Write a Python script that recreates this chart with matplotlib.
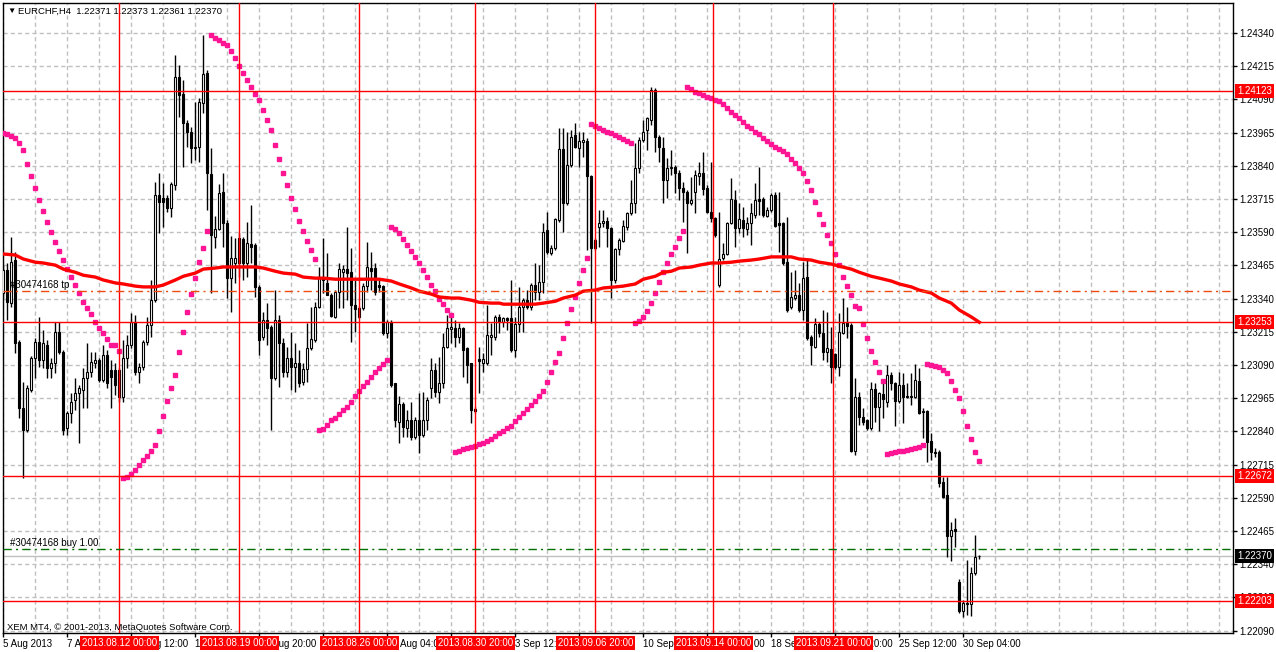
import matplotlib
matplotlib.use("Agg")
import matplotlib.pyplot as plt
import numpy as np

plt.rcParams['font.family'] = ['Liberation Sans', 'DejaVu Sans']

# EURCHF H4 candles, prices in points (1e-5), bar 0 = 5 Aug 2013 04:00
opens = [
    123361, 123447, 123323, 123485, 123176, 122928, 122845, 122996, 123116, 123176,
    123109, 123165, 123079, 123098, 123214, 123138, 122853, 122909, 122958, 122985,
    122996, 123041, 123063, 123098, 123109, 123033, 123127, 123071, 123071, 123071,
    122970, 123116, 123165, 123251, 123063, 123083, 123176, 123240, 123334, 123730,
    123719, 123719, 123681, 123767, 124174, 124110, 124001, 123967, 123907, 123911,
    124076, 124189, 123809, 123572, 123602, 123741, 123625, 123417, 123474, 123568,
    123564, 123474, 123545, 123541, 123384, 123196, 123259, 123233, 123041, 123259,
    123173, 123063, 123116, 123083, 123098, 123025, 123075, 123154, 123184, 123308,
    123421, 123399, 123353, 123271, 123364, 123439, 123451, 123439, 123315, 123271,
    123304, 123387, 123455, 123455, 123391, 123387, 123211, 123251, 123022, 122875,
    122943, 122853, 122883, 122819, 122883, 122826, 122883, 123003, 123071, 122988,
    123022, 123158, 123225, 123229, 123196, 123229, 123154, 123098, 122924, 123112,
    123098, 123098, 123196, 123196, 123271, 123251, 123267, 123267, 123146, 123244,
    123308, 123334, 123308, 123391, 123364, 123402, 123598, 123511, 123530, 123636,
    123903, 123700, 123843, 123956, 123907, 123929, 123933, 123802, 123560, 123610,
    123625, 123632, 123606, 123410, 123526, 123556, 123610, 123662, 123700, 123832,
    123937, 123975, 124012, 124125, 123949, 123907, 123786, 123832, 123836, 123813,
    123756, 123741, 123700, 123741, 123802, 123813, 123756, 123665, 123643, 123391,
    123493, 123508, 123625, 123711, 123606, 123636, 123602, 123625, 123655, 123715,
    123715, 123651, 123673, 123730, 123625, 123625, 123477, 123308, 123342, 123353,
    123297, 123421, 123196, 123158, 123244, 123211, 123138, 123150, 123131, 123083,
    123211, 123248, 123240, 122766, 122970, 122894, 122883, 122853, 123000, 122932,
    122981, 122950, 123052, 123022, 122954, 123014, 122973, 122970, 122970, 123029,
    122916, 122916, 122804, 122762, 122762, 122649, 122600, 122446, 122472, 122273,
    122163, 122190, 122190, 122307, 122371,
]
highs = [
    123466, 123474, 123572, 123515, 123184, 123025, 123014, 123123, 123192, 123271,
    123222, 123184, 123116, 123251, 123251, 123146, 122916, 122985, 123041, 123014,
    123079, 123173, 123138, 123138, 123116, 123165, 123146, 123109, 123098, 123079,
    123184, 123203, 123286, 123278, 123098, 123184, 123271, 123410, 123778, 123813,
    123775, 123730, 123778, 124257, 124219, 124163, 124012, 123986, 124079, 124095,
    124332, 124200, 123907, 123650, 123771, 123813, 123636, 123575, 123568, 123587,
    123572, 123628, 123692, 123549, 123391, 123289, 123323, 123240, 123372, 123278,
    123192, 123158, 123214, 123173, 123146, 123098, 123248, 123308, 123326, 123459,
    123568, 123512, 123361, 123372, 123474, 123466, 123610, 123530, 123410, 123311,
    123399, 123553, 123515, 123474, 123410, 123391, 123259, 123259, 123022, 122973,
    122950, 122920, 122950, 122894, 122985, 122988, 122970, 123116, 123098, 123120,
    123211, 123278, 123278, 123259, 123248, 123233, 123158, 123098, 122932, 123158,
    123135, 123315, 123248, 123278, 123282, 123271, 123271, 123410, 123271, 123384,
    123342, 123372, 123399, 123474, 123466, 123625, 123665, 123541, 123643, 123983,
    123983, 123967, 123975, 124001, 123967, 123967, 123945, 123805, 123568, 123673,
    123673, 123647, 123610, 123530, 123568, 123636, 123665, 123786, 123926, 123949,
    124012, 124024, 124136, 124132, 123956, 123949, 123869, 123899, 123843, 123824,
    123778, 123749, 123798, 123824, 123854, 123892, 123768, 123854, 123647, 123665,
    123549, 123628, 123794, 123749, 123700, 123685, 123647, 123700, 123775, 123836,
    123722, 123685, 123738, 123741, 123741, 123628, 123647, 123439, 123447, 123399,
    123477, 123493, 123203, 123267, 123251, 123297, 123289, 123233, 123135, 123286,
    123342, 123308, 123248, 123041, 122988, 122928, 122887, 123025, 123022, 122988,
    123025, 123090, 123063, 123025, 123063, 123060, 123022, 123060, 123094, 123079,
    122928, 122920, 122834, 122777, 122770, 122668, 122668, 122499, 122514, 122284,
    122205, 122356, 122329, 122450, 122373,
]
lows = [
    123346, 123259, 123308, 123135, 122890, 122664, 122837, 122988, 123041, 123083,
    123079, 123041, 123041, 123060, 123131, 122826, 122826, 122872, 122920, 122796,
    122928, 122928, 123045, 123079, 123025, 123025, 123003, 122928, 122977, 122950,
    122950, 123079, 123154, 123052, 123022, 123071, 123165, 123196, 123326, 123587,
    123610, 123665, 123647, 123749, 124024, 123836, 123911, 123851, 123862, 123854,
    124039, 123673, 123361, 123530, 123598, 123534, 123342, 123289, 123399, 123421,
    123410, 123421, 123474, 123346, 123127, 123184, 123165, 122845, 123033, 123007,
    123045, 123045, 122996, 122988, 123007, 123014, 123025, 123146, 123176, 123304,
    123361, 123353, 123271, 123267, 123304, 123304, 123334, 123176, 123214, 123267,
    123297, 123364, 123372, 123353, 123364, 123203, 123192, 123007, 122857, 122796,
    122819, 122819, 122807, 122811, 122759, 122819, 122845, 122966, 122970, 122947,
    123003, 123154, 123173, 123158, 123173, 123045, 123022, 122872, 122909, 122985,
    123063, 123090, 123127, 123184, 123211, 123233, 123222, 123138, 123120, 123214,
    123214, 123300, 123297, 123334, 123334, 123361, 123508, 123504, 123523, 123628,
    123590, 123692, 123836, 123907, 123836, 123873, 123523, 123248, 123523, 123534,
    123610, 123534, 123342, 123399, 123504, 123553, 123598, 123655, 123662, 123813,
    123929, 123899, 123994, 123892, 123854, 123700, 123719, 123805, 123738, 123711,
    123628, 123511, 123692, 123662, 123768, 123730, 123662, 123628, 123572, 123384,
    123485, 123504, 123621, 123534, 123587, 123572, 123579, 123541, 123643, 123655,
    123647, 123647, 123665, 123610, 123515, 123466, 123289, 123300, 123334, 123289,
    123259, 123184, 123090, 123154, 123196, 123109, 123101, 123022, 123075, 123049,
    123207, 123192, 122762, 122751, 122864, 122864, 122845, 122845, 122875, 122841,
    122890, 122932, 122996, 122860, 122947, 122872, 122966, 122939, 122966, 122905,
    122815, 122724, 122732, 122743, 122630, 122589, 122367, 122352, 122405, 122156,
    122141, 122148, 122145, 122299, 122361,
]
closes = [
    123447, 123326, 123477, 123173, 122928, 122845, 123003, 123116, 123176, 123109,
    123173, 123079, 123098, 123214, 123138, 122845, 122909, 122950, 122985, 123003,
    123041, 123063, 123101, 123109, 123033, 123127, 123022, 123045, 123014, 122970,
    123116, 123165, 123251, 123063, 123083, 123176, 123240, 123334, 123730, 123703,
    123703, 123681, 123771, 124174, 124106, 124001, 123967, 123907, 123911, 124079,
    124185, 123813, 123579, 123602, 123738, 123625, 123417, 123493, 123493, 123474,
    123474, 123549, 123534, 123384, 123184, 123259, 123229, 123041, 123259, 123173,
    123063, 123116, 123083, 123098, 123022, 123075, 123154, 123188, 123308, 123421,
    123410, 123353, 123274, 123364, 123451, 123451, 123436, 123315, 123300, 123304,
    123387, 123458, 123443, 123364, 123384, 123211, 123251, 123014, 122883, 122943,
    122857, 122883, 122819, 122883, 122826, 122883, 122958, 123071, 122988, 123022,
    123158, 123229, 123233, 123196, 123229, 123146, 123090, 122920, 122916, 123105,
    123112, 123203, 123203, 123271, 123251, 123267, 123259, 123146, 123244, 123308,
    123334, 123308, 123391, 123364, 123402, 123590, 123515, 123530, 123640, 123903,
    123700, 123843, 123949, 123911, 123933, 123937, 123802, 123530, 123530, 123625,
    123632, 123606, 123410, 123526, 123560, 123613, 123662, 123700, 123832, 123937,
    123967, 124020, 124125, 123949, 123911, 123786, 123832, 123836, 123813, 123756,
    123741, 123700, 123711, 123805, 123813, 123753, 123665, 123643, 123579, 123489,
    123508, 123625, 123715, 123606, 123640, 123606, 123625, 123662, 123711, 123707,
    123655, 123673, 123730, 123613, 123617, 123474, 123297, 123346, 123353, 123297,
    123417, 123192, 123165, 123244, 123211, 123138, 123154, 123083, 123083, 123214,
    123248, 123236, 122766, 122970, 122894, 122875, 122853, 123000, 122932, 122985,
    122962, 123052, 123022, 122954, 123014, 122970, 122970, 122973, 123033, 122909,
    122913, 122800, 122762, 122759, 122645, 122593, 122446, 122469, 122465, 122163,
    122194, 122194, 122307, 122367, 122370,
]

# Parabolic SAR, one dot per bar (points)
sar = [
    123964, 123960, 123952, 123945, 123926, 123899, 123847, 123801, 123756, 123711,
    123669, 123628, 123590, 123553, 123519, 123485, 123451, 123421, 123391, 123361,
    123326, 123304, 123282, 123251, 123229, 123211, 123188, 123165, 123165, 123142,
    122664, 122668, 122679, 122694, 122713, 122732, 122747, 122766, 122788, 122841,
    122897, 122954, 123003, 123052, 123138, 123214, 123289, 123357, 123417, 123477,
    123530, 123594, 124332, 124321, 124313, 124302, 124294, 124272, 124246, 124215,
    124189, 124163, 124136, 124110, 124087, 124050, 124012, 123975, 123918, 123866,
    123813, 123768, 123719, 123677, 123632, 123594, 123556, 123523, 123489, 122845,
    122849, 122864, 122883, 122890, 122905, 122920, 122932, 122950, 122973, 122992,
    123011, 123025, 123045, 123063, 123079, 123094, 123109, 123610, 123602, 123587,
    123564, 123541, 123519, 123497, 123474, 123447, 123421, 123391, 123368, 123338,
    123319, 123297, 123278, 122762, 122766, 122773, 122777, 122781, 122785, 122792,
    122796, 122804, 122811, 122822, 122834, 122841, 122853, 122860, 122879, 122894,
    122909, 122924, 122939, 122954, 122973, 122992, 123025, 123063, 123101, 123135,
    123192, 123248, 123300, 123346, 123399, 123447, 123493, 123997, 123990, 123983,
    123975, 123967, 123964, 123956, 123949, 123941, 123933, 123926, 123248, 123255,
    123271, 123293, 123323, 123361, 123402, 123439, 123474, 123508, 123534, 123568,
    123594, 124136, 124129, 124117, 124114, 124106, 124099, 124095, 124087, 124084,
    124072, 124057, 124042, 124031, 124020, 124005, 123990, 123983, 123967, 123960,
    123945, 123933, 123922, 123911, 123903, 123896, 123884, 123866, 123851, 123832,
    123813, 123783, 123749, 123704, 123658, 123621, 123579, 123549, 123508, 123466,
    123421, 123387, 123353, 123311, 123304, 123244, 123192, 123142, 123101, 123063,
    123029, 122755, 122759, 122762, 122766, 122766, 122770, 122773, 122777, 122781,
    122788, 123094, 123090, 123086, 123083, 123071, 123060, 123029, 122996, 122966,
    122916, 122860, 122811, 122762, 122728,
]

# moving average read at these bars (points)
ma_bars = [0, 3, 5, 8, 10, 13, 15, 18, 20, 23, 25, 28, 30, 33, 35, 38, 40, 43, 45, 48,
           50, 53, 55, 58, 60, 63, 65, 68, 70, 73, 75, 78, 80, 83, 87, 92, 94, 97, 99, 102,
           104, 107, 109, 112, 114, 117, 119, 122, 124, 125, 128, 130, 133, 135, 138, 140,
           143, 145, 148, 150, 153, 155, 158, 160, 163, 165, 167, 169, 172, 174, 177, 179,
           182, 184, 187, 189, 192, 194, 197, 199, 202, 204, 207, 209, 212, 214, 217, 219,
           222, 224, 227, 229, 232, 234, 237, 239, 242, 244]
ma_vals = [123508, 123504, 123489, 123477, 123474, 123466, 123451, 123439, 123428, 123421,
           123410, 123399, 123395, 123387, 123384, 123384, 123391, 123410, 123424, 123436,
           123451, 123455, 123459, 123459, 123459, 123459, 123455, 123443, 123436, 123432,
           123421, 123417, 123417, 123413, 123413, 123413, 123413, 123406, 123395, 123380,
           123368, 123357, 123346, 123342, 123342, 123334, 123326, 123323, 123323, 123319,
           123319, 123319, 123319, 123323, 123330, 123342, 123353, 123368, 123372, 123380,
           123384, 123387, 123395, 123413, 123424, 123439, 123443, 123455, 123459, 123466,
           123474, 123474, 123477, 123481, 123485, 123489, 123497, 123497, 123497, 123489,
           123485, 123477, 123470, 123462, 123451, 123439, 123424, 123417, 123406, 123395,
           123384, 123372, 123361, 123342, 123323, 123297, 123271, 123251]

red_levels = [1.24123, 1.23253, 1.22672, 1.22203]
tp_price = 1.23369
buy_price = 1.22398
bid_price = 1.22370

vline_bars = [29, 59, 89, 118, 148, 177.5, 207.5]
vline_labels = ["2013.08.12 00:00", "2013.08.19 00:00", "2013.08.26 00:00",
                "2013.08.30 20:00", "2013.09.06 20:00", "2013.09.14 00:00",
                "2013.09.21 00:00"]

time_tick_bars = list(range(0, 241, 16))
time_tick_labels = ["5 Aug 2013", "7 Aug 20:00", "12 Aug 12:00", "15 Aug 04:00",
                    "19 Aug 20:00", "22 Aug 12:00", "27 Aug 04:00", "29 Aug 20:00",
                    "3 Sep 12:00", "6 Sep 04:00", "10 Sep 20:00", "13 Sep 12:00",
                    "18 Sep 04:00", "20 Sep 20:00", "25 Sep 12:00", "30 Sep 04:00"]

price_ticks = [1.24340, 1.24215, 1.24090, 1.23965, 1.23840, 1.23715, 1.23590, 1.23465,
               1.23340, 1.23215, 1.23090, 1.22965, 1.22840, 1.22715, 1.22590, 1.22465,
               1.22340, 1.22215, 1.22090]

n = min(len(opens), len(highs), len(lows), len(closes))
o = np.array(opens[:n]) / 1e5
h = np.array(highs[:n]) / 1e5
l = np.array(lows[:n]) / 1e5
c = np.array(closes[:n]) / 1e5
x = np.arange(n)

fig = plt.figure(figsize=(12.76, 6.52), dpi=100)
fig.patch.set_facecolor('white')
ax = fig.add_axes([2.7 / 1276, 1 - 633 / 652, 1230 / 1276, 630.3 / 652])
ax.set_xlim(-0.15, 307.35)
ax.set_ylim(1.22081, 1.24454)

grid_kw = dict(color='#C0C0C0', lw=1, ls=(0, (3, 2.2)), zorder=0.5)
for gx in range(0, 308, 8):
    ax.axvline(gx, **grid_kw)
for gy in price_ticks:
    ax.axhline(gy, **grid_kw)

# candles
ax.vlines(x, l, h, color='black', lw=1, zorder=3)
bull = c >= o
ax.bar(x, np.abs(c - o), bottom=np.minimum(o, c), width=0.55,
       color=np.where(bull, 'white', 'black'), edgecolor='black', lw=0.8, zorder=4)

# indicators
ax.plot(x, np.array(sar[:n]) / 1e5, ls='none', marker='s', ms=2.8,
        color='#FF1493', mec='#FF1493', zorder=6)
ax.plot(ma_bars, np.array(ma_vals) / 1e5, color='red', lw=2.4, zorder=7)

# objects
for lvl in red_levels:
    ax.axhline(lvl, color='red', lw=1, zorder=8)
for vb in vline_bars:
    ax.axvline(vb, color='red', lw=1, zorder=8)
ax.axhline(bid_price, color='#C0C0C0', lw=1, zorder=2)
ax.axhline(tp_price, color='#F04A10', lw=1, ls=(0, (6, 3, 1.5, 3)), zorder=8)
ax.axhline(buy_price, color='#007000', lw=1, ls=(0, (6, 3, 1.5, 3)), zorder=8)
ax.text(1.7, tp_price + 0.00004, "#30474168 tp", fontsize=7, va='bottom', ha='left', zorder=9)
ax.text(1.7, buy_price + 0.00004, "#30474168 buy 1.00", fontsize=7, va='bottom', ha='left', zorder=9)

# axes styling
for sp in ax.spines.values():
    sp.set_color('black')
    sp.set_linewidth(1)
ax.yaxis.tick_right()
ax.set_yticks(price_ticks)
ax.set_yticklabels([f"{p:.5f}" for p in price_ticks])
ax.tick_params(axis='y', direction='out', length=3, width=1, pad=2, labelsize=7)
ax.set_xticks(time_tick_bars)
ax.set_xticklabels(time_tick_labels)
ax.tick_params(axis='x', direction='out', length=3, width=1, pad=1, labelsize=7)
for lbl in ax.get_xticklabels():
    lbl.set_ha('left')

# price labels on the right
ytr = ax.get_yaxis_transform()
for lvl in red_levels:
    ax.text(1.0035, lvl, f"{lvl:.5f}", transform=ytr, color='white', fontsize=7,
            va='center', ha='left', clip_on=False, zorder=20,
            bbox=dict(boxstyle='square,pad=0.2', fc='red', ec='none'))
ax.text(1.0035, bid_price, f"{bid_price:.5f}", transform=ytr, color='white', fontsize=7,
        va='center', ha='left', clip_on=False, zorder=20,
        bbox=dict(boxstyle='square,pad=0.2', fc='black', ec='none'))

# time labels of the vertical lines
xtr = ax.get_xaxis_transform()
for vb, txt in zip(vline_bars, vline_labels):
    ax.text(vb, -0.0160, txt, transform=xtr, color='white', fontsize=7,
            va='center', ha='center', clip_on=False, zorder=20,
            bbox=dict(boxstyle='square,pad=0.2', fc='red', ec='none'))

# header and footer
ax.text(0.0035, 0.9868, "▼", transform=ax.transAxes, fontsize=6, va='center', ha='left')
ax.text(0.0124, 0.9868, "EURCHF,H4  1.22371 1.22373 1.22361 1.22370",
        transform=ax.transAxes, fontsize=6.8, va='center', ha='left')
ax.text(0.0035, 0.0095, "XEM MT4, © 2001-2013, MetaQuotes Software Corp.",
        transform=ax.transAxes, fontsize=6.8, va='center', ha='left', zorder=9)

fig.savefig("out.png", dpi=100)
